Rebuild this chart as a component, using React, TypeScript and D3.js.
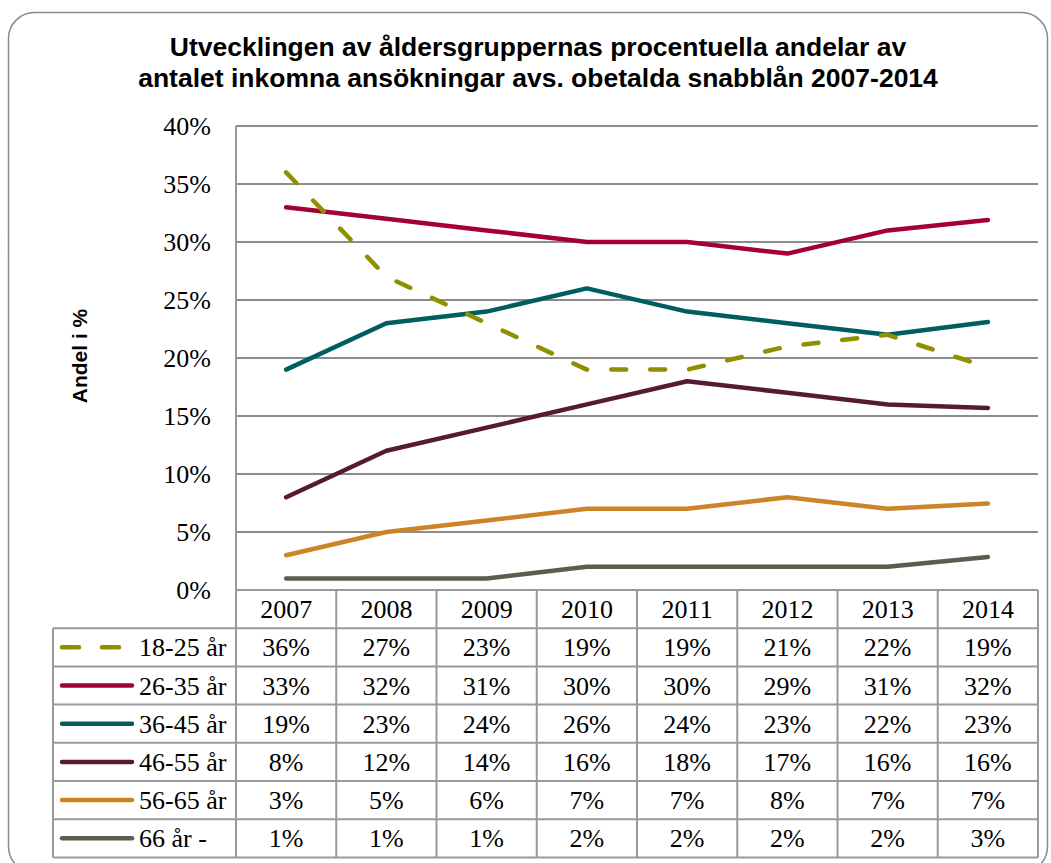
import React, { useEffect, useRef } from 'react';
import * as d3 from 'd3';

// years on the x axis / table columns
const years = ['2007', '2008', '2009', '2010', '2011', '2012', '2013', '2014'];

// age groups (legend rows)
const groups = ['18-25 år', '26-35 år', '36-45 år', '46-55 år', '56-65 år', '66 år -'];

// share in percent, one array per age group
const age1825 = [36, 27, 23, 19, 19, 21, 22, 19.2];
const age2635 = [33, 32, 31, 30, 30, 29, 31, 31.9];
const age3645 = [19, 23, 24, 26, 24, 23, 22, 23.1];
const age4655 = [8, 12, 14, 16, 18, 17, 16, 15.7];
const age5665 = [3, 5, 6, 7, 7, 8, 7, 7.45];
const age66 = [1, 1, 1, 2, 2, 2, 2, 2.85];

const yTicks = [0, 5, 10, 15, 20, 25, 30, 35, 40];

const colors = ['#8f8f00', '#a50034', '#005e5e', '#561a33', '#cc8526', '#5c5d4e'];

const titleLines = [
  'Utvecklingen av åldersgruppernas procentuella andelar av',
  'antalet inkomna ansökningar avs. obetalda snabblån 2007-2014',
];

const W = 1051;
const H = 863;

export default function App() {
  const ref = useRef<SVGSVGElement>(null);

  useEffect(() => {
    const svg = d3.select(ref.current);
    svg.selectAll('*').remove();

    const series = [age1825, age2635, age3645, age4655, age5665, age66];

    const left = 236;
    const right = 1038;
    const top = 126;
    const bottom = 590;
    const rowH = 38.2;
    const tableLeft = 53;
    const tableBottom = bottom + rowH * 7;
    const serif = "'Liberation Serif', serif";
    const sans = "'Liberation Sans', sans-serif";
    const grid = '#8c8c8c';

    const x = d3.scaleBand().domain(years).range([left, right]);
    const y = d3.scaleLinear().domain([0, 40]).range([bottom, top]);

    // chart frame
    svg
      .append('rect')
      .attr('x', 8.5)
      .attr('y', 12.5)
      .attr('width', 1039)
      .attr('height', 860)
      .attr('rx', 26)
      .attr('fill', '#fff')
      .attr('stroke', '#8a8a8a')
      .attr('stroke-width', 1.5);

    // title
    svg
      .append('g')
      .selectAll('text')
      .data(titleLines)
      .enter()
      .append('text')
      .attr('x', 538)
      .attr('y', (d, i) => 56 + i * 31)
      .attr('text-anchor', 'middle')
      .style('font-family', sans)
      .style('font-weight', 'bold')
      .style('font-size', '26.5px')
      .text((d) => d);

    // y axis label
    svg
      .append('text')
      .attr('transform', 'translate(87, 356) rotate(-90)')
      .attr('text-anchor', 'middle')
      .style('font-family', sans)
      .style('font-weight', 'bold')
      .style('font-size', '21px')
      .text('Andel i %');

    // grid lines
    svg
      .append('g')
      .selectAll('line')
      .data(yTicks.filter((t) => t > 0))
      .enter()
      .append('line')
      .attr('x1', left)
      .attr('x2', right)
      .attr('y1', (d) => y(d))
      .attr('y2', (d) => y(d))
      .attr('stroke', grid)
      .attr('stroke-width', 2);

    // y tick labels
    svg
      .append('g')
      .selectAll('text')
      .data(yTicks)
      .enter()
      .append('text')
      .attr('x', 211)
      .attr('y', (d) => y(d))
      .attr('dy', '0.35em')
      .attr('text-anchor', 'end')
      .style('font-family', serif)
      .style('font-size', '26px')
      .text((d) => d + '%');

    // data table grid
    const tg = svg.append('g').attr('stroke', '#999').attr('stroke-width', 2).attr('fill', 'none');
    tg.append('line').attr('x1', left).attr('x2', left).attr('y1', top).attr('y2', tableBottom);
    tg.append('line').attr('x1', left).attr('x2', right).attr('y1', bottom).attr('y2', bottom);
    d3.range(1, 8).forEach((r) => {
      tg.append('line')
        .attr('x1', tableLeft)
        .attr('x2', right)
        .attr('y1', bottom + r * rowH)
        .attr('y2', bottom + r * rowH);
    });
    tg.append('line')
      .attr('x1', tableLeft)
      .attr('x2', tableLeft)
      .attr('y1', bottom + rowH)
      .attr('y2', tableBottom);
    years.forEach((yr) => {
      const xe = (x(yr) as number) + x.bandwidth();
      tg.append('line').attr('x1', xe).attr('x2', xe).attr('y1', bottom).attr('y2', tableBottom);
    });

    // header row
    svg
      .append('g')
      .selectAll('text')
      .data(years)
      .enter()
      .append('text')
      .attr('x', (d) => (x(d) as number) + x.bandwidth() / 2)
      .attr('y', bottom + rowH / 2)
      .attr('dy', '0.35em')
      .attr('text-anchor', 'middle')
      .style('font-family', serif)
      .style('font-size', '26px')
      .text((d) => d);

    // rows with legend keys
    series.forEach((vals, si) => {
      const cy = bottom + rowH * (si + 1.5);
      svg
        .append('line')
        .attr('x1', 62)
        .attr('x2', si === 0 ? 124 : 132)
        .attr('y1', cy)
        .attr('y2', cy)
        .attr('stroke', colors[si])
        .attr('stroke-width', 4.5)
        .attr('stroke-linecap', 'round')
        .attr('stroke-dasharray', si === 0 ? '17,23' : null);

      svg
        .append('text')
        .attr('x', 139)
        .attr('y', cy)
        .attr('dy', '0.35em')
        .style('font-family', serif)
        .style('font-size', '26px')
        .text(groups[si]);

      svg
        .append('g')
        .selectAll('text')
        .data(vals)
        .enter()
        .append('text')
        .attr('x', (d, i) => (x(years[i]) as number) + x.bandwidth() / 2)
        .attr('y', cy)
        .attr('dy', '0.35em')
        .attr('text-anchor', 'middle')
        .style('font-family', serif)
        .style('font-size', '26px')
        .text((d) => Math.round(d) + '%');
    });

    // lines
    const line = d3
      .line<number>()
      .x((d, i) => (x(years[i]) as number) + x.bandwidth() / 2)
      .y((d) => y(d));

    series
      .slice()
      .reverse()
      .forEach((vals, ri) => {
        const si = series.length - 1 - ri;
        svg
          .append('path')
          .attr('d', line(vals))
          .attr('fill', 'none')
          .attr('stroke', colors[si])
          .attr('stroke-width', 4.5)
          .attr('stroke-linecap', 'round')
          .attr('stroke-linejoin', 'round')
          .attr('stroke-dasharray', si === 0 ? '15,24' : null);
      });
  }, []);

  return (
    <svg
      ref={ref}
      width={W}
      height={H}
      style={{ position: 'absolute', left: 0, top: 0, display: 'block' }}
    />
  );
}
